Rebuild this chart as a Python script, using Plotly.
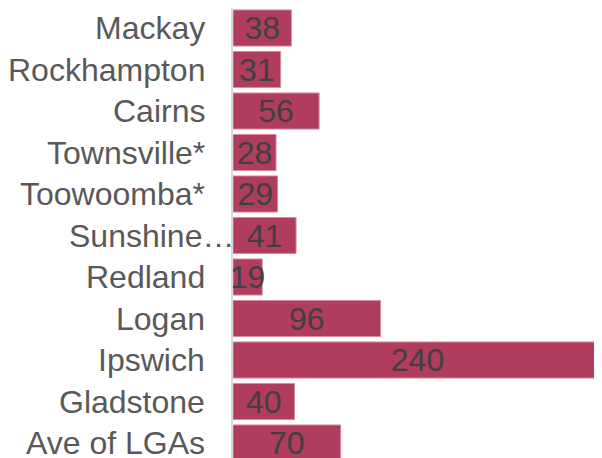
import plotly.graph_objects as go

categories = ["Mackay", "Rockhampton", "Cairns", "Townsville*", "Toowoomba*",
              "Sunshine…", "Redland", "Logan", "Ipswich", "Gladstone", "Ave of LGAs"]
values = [38, 31, 56, 28, 29, 41, 19, 96, 240, 40, 70]

fig = go.Figure()
fig.add_trace(go.Bar(
    y=categories, x=values, orientation="h",
    marker=dict(color="#B03C5E", line=dict(color="#D98AA3", width=1)),
    width=0.87,
    text=[str(v) for v in values],
    textposition="inside", insidetextanchor="middle",
    textangle=0, constraintext="none", cliponaxis=False,
    textfont=dict(family="Liberation Sans, Arial, sans-serif", size=32, color="#404040"),
    hoverinfo="skip",
))

# category labels as annotations (the truncated label sits closer to the axis)
for cat in categories:
    fig.add_annotation(
        x=0, y=cat, xref="x", yref="y",
        text=cat, showarrow=False,
        xanchor="right", yanchor="middle",
        xshift=(3 if cat.endswith("…") else -26),
        font=dict(family="Liberation Sans, Arial, sans-serif", size=32, color="#595959"),
    )

fig.update_layout(
    width=594, height=450,
    margin=dict(l=225, r=0, t=0, b=0, autoexpand=False),
    paper_bgcolor="white", plot_bgcolor="white",
    showlegend=False,
    xaxis=dict(range=[0, 240], visible=False, fixedrange=True, automargin=False),
    yaxis=dict(
        categoryorder="array", categoryarray=categories,
        range=[10.361, -0.482], automargin=False,
        showgrid=False, zeroline=False,
        showline=True, linecolor="#D9D9D9", linewidth=2,
        ticks="", showticklabels=False,
    ),
)

fig.write_html("out.html")
